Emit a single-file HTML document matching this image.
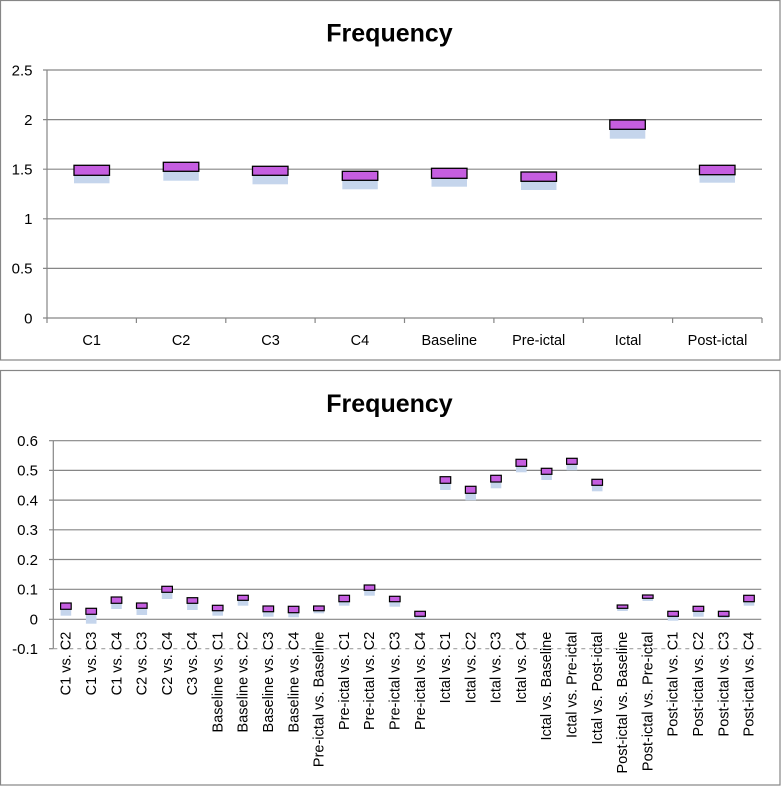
<!DOCTYPE html>
<html>
<head>
<meta charset="utf-8">
<style>
html,body{margin:0;padding:0;background:#fff;}
svg{display:block;}
text{font-family:"Liberation Sans",sans-serif;fill:#000;}
</style>
</head>
<body>
<svg width="781" height="786" viewBox="0 0 781 786" xmlns="http://www.w3.org/2000/svg">
<rect x="0" y="0" width="781" height="786" fill="#fff"/>
<!-- Chart 1 frame -->
<rect x="0.5" y="0.5" width="779.5" height="359.5" fill="#fff" stroke="#868686" stroke-width="1.2"/>
<text x="389.5" y="41.5" font-size="25" font-weight="bold" text-anchor="middle">Frequency</text>
<g stroke="#868686" stroke-width="1.2">
<line x1="43" y1="70" x2="762" y2="70"/>
<line x1="43" y1="119.6" x2="762" y2="119.6"/>
<line x1="43" y1="169.2" x2="762" y2="169.2"/>
<line x1="43" y1="218.8" x2="762" y2="218.8"/>
<line x1="43" y1="268.4" x2="762" y2="268.4"/>
<line x1="43" y1="318" x2="762" y2="318"/>
<line x1="47" y1="70" x2="47" y2="318"/>
<line x1="47" y1="318" x2="47" y2="323"/>
<line x1="136.4" y1="318" x2="136.4" y2="323"/>
<line x1="225.8" y1="318" x2="225.8" y2="323"/>
<line x1="315.1" y1="318" x2="315.1" y2="323"/>
<line x1="404.5" y1="318" x2="404.5" y2="323"/>
<line x1="493.9" y1="318" x2="493.9" y2="323"/>
<line x1="583.3" y1="318" x2="583.3" y2="323"/>
<line x1="672.6" y1="318" x2="672.6" y2="323"/>
<line x1="762" y1="318" x2="762" y2="323"/>
</g>
<g font-size="15" text-anchor="end">
<text x="32.5" y="75.5">2.5</text>
<text x="32.5" y="125">2</text>
<text x="32.5" y="174.5">1.5</text>
<text x="32.5" y="224">1</text>
<text x="32.5" y="273.5">0.5</text>
<text x="32.5" y="323.5">0</text>
</g>
<g font-size="14.5" text-anchor="middle">
<text x="91.7" y="345">C1</text>
<text x="181.1" y="345">C2</text>
<text x="270.5" y="345">C3</text>
<text x="359.9" y="345">C4</text>
<text x="449.3" y="345">Baseline</text>
<text x="538.7" y="345">Pre-ictal</text>
<text x="628.1" y="345">Ictal</text>
<text x="717.5" y="345">Post-ictal</text>
</g>
<g fill="#c5d5ec">
<rect x="74" y="175.3" width="35.5" height="8"/>
<rect x="163.3" y="171.3" width="35.5" height="9.4"/>
<rect x="252.5" y="175.3" width="35.5" height="9"/>
<rect x="342.3" y="180.3" width="35.5" height="9"/>
<rect x="431.5" y="178.3" width="35.5" height="8.4"/>
<rect x="521" y="181.3" width="35.5" height="8.7"/>
<rect x="609.8" y="129.3" width="35.5" height="9.4"/>
<rect x="699.5" y="174.7" width="35.5" height="8"/>
</g>
<g fill="#c55ee0" stroke="#000" stroke-width="1.3">
<rect x="74" y="165.3" width="35.5" height="10"/>
<rect x="163.3" y="162.3" width="35.5" height="9"/>
<rect x="252.5" y="166.3" width="35.5" height="9"/>
<rect x="342.3" y="171.3" width="35.5" height="9"/>
<rect x="431.5" y="168.3" width="35.5" height="10"/>
<rect x="521" y="172" width="35.5" height="9.3"/>
<rect x="609.8" y="120" width="35.5" height="9.3"/>
<rect x="699.5" y="165.3" width="35.5" height="9.4"/>
</g>

<!-- Chart 2 frame -->
<rect x="0.5" y="370.5" width="779.5" height="414.5" fill="#fff" stroke="#868686" stroke-width="1.2"/>
<text x="389.5" y="412" font-size="25" font-weight="bold" text-anchor="middle">Frequency</text>
<g stroke="#868686" stroke-width="1.2">
<line x1="49" y1="440.7" x2="761.3" y2="440.7"/>
<line x1="49" y1="470.4" x2="761.3" y2="470.4"/>
<line x1="49" y1="500.1" x2="761.3" y2="500.1"/>
<line x1="49" y1="529.8" x2="761.3" y2="529.8"/>
<line x1="49" y1="559.5" x2="761.3" y2="559.5"/>
<line x1="49" y1="589.3" x2="761.3" y2="589.3"/>
<line x1="49" y1="619.3" x2="761.3" y2="619.3"/>
<line x1="49" y1="648.7" x2="53.3" y2="648.7"/>
<line x1="53.3" y1="440.7" x2="53.3" y2="648.7"/>
</g>
<line x1="53.3" y1="648.7" x2="761.3" y2="648.7" stroke="#a0a0a0" stroke-width="1.2" stroke-dasharray="4,4"/>
<g font-size="15" text-anchor="end">
<text x="38" y="446">0.6</text>
<text x="38" y="475.7">0.5</text>
<text x="38" y="505.4">0.4</text>
<text x="38" y="535.1">0.3</text>
<text x="38" y="564.8">0.2</text>
<text x="38" y="594.6">0.1</text>
<text x="38" y="624.6">0</text>
<text x="38" y="654">-0.1</text>
</g>
<g font-size="14.5" text-anchor="end">
<text transform="translate(70.7,631.7) rotate(-90)">C1 vs. C2</text>
<text transform="translate(96,631.7) rotate(-90)">C1 vs. C3</text>
<text transform="translate(121.3,631.7) rotate(-90)">C1 vs. C4</text>
<text transform="translate(146.6,631.7) rotate(-90)">C2 vs. C3</text>
<text transform="translate(171.9,631.7) rotate(-90)">C2 vs. C4</text>
<text transform="translate(197.2,631.7) rotate(-90)">C3 vs. C4</text>
<text transform="translate(222.4,631.7) rotate(-90)">Baseline vs. C1</text>
<text transform="translate(247.7,631.7) rotate(-90)">Baseline vs. C2</text>
<text transform="translate(273,631.7) rotate(-90)">Baseline vs. C3</text>
<text transform="translate(298.3,631.7) rotate(-90)">Baseline vs. C4</text>
<text transform="translate(323.6,631.7) rotate(-90)">Pre-ictal vs. Baseline</text>
<text transform="translate(348.9,631.7) rotate(-90)">Pre-ictal vs. C1</text>
<text transform="translate(374.2,631.7) rotate(-90)">Pre-ictal vs. C2</text>
<text transform="translate(399.5,631.7) rotate(-90)">Pre-ictal vs. C3</text>
<text transform="translate(424.8,631.7) rotate(-90)">Pre-ictal vs. C4</text>
<text transform="translate(450.1,631.7) rotate(-90)">Ictal vs. C1</text>
<text transform="translate(475.4,631.7) rotate(-90)">Ictal vs. C2</text>
<text transform="translate(500.7,631.7) rotate(-90)">Ictal vs. C3</text>
<text transform="translate(525.9,631.7) rotate(-90)">Ictal vs. C4</text>
<text transform="translate(551.2,631.7) rotate(-90)">Ictal vs. Baseline</text>
<text transform="translate(576.5,631.7) rotate(-90)">Ictal vs. Pre-ictal</text>
<text transform="translate(601.8,631.7) rotate(-90)">Ictal vs. Post-ictal</text>
<text transform="translate(627.1,631.7) rotate(-90)">Post-ictal vs. Baseline</text>
<text transform="translate(652.4,631.7) rotate(-90)">Post-ictal vs. Pre-ictal</text>
<text transform="translate(677.7,631.7) rotate(-90)">Post-ictal vs. C1</text>
<text transform="translate(703,631.7) rotate(-90)">Post-ictal vs. C2</text>
<text transform="translate(728.3,631.7) rotate(-90)">Post-ictal vs. C3</text>
<text transform="translate(753.6,631.7) rotate(-90)">Post-ictal vs. C4</text>
</g>
<g fill="#c5d5ec">
<rect x="60.6" y="609.3" width="10.6" height="6.4"/>
<rect x="85.9" y="614.3" width="10.6" height="9.4"/>
<rect x="111.2" y="603.3" width="10.6" height="5.7"/>
<rect x="136.5" y="608.3" width="10.6" height="6.7"/>
<rect x="161.8" y="592.3" width="10.6" height="6.7"/>
<rect x="187.1" y="603.3" width="10.6" height="6.7"/>
<rect x="212.4" y="610.7" width="10.6" height="5"/>
<rect x="237.7" y="600.3" width="10.6" height="5.4"/>
<rect x="263" y="611.7" width="10.6" height="5"/>
<rect x="288.3" y="612.7" width="10.6" height="4.6"/>
<rect x="313.6" y="610.7" width="10.6" height="2.6"/>
<rect x="338.9" y="601.7" width="10.6" height="4"/>
<rect x="364.2" y="590.3" width="10.6" height="5.4"/>
<rect x="389.5" y="601.7" width="10.6" height="5"/>
<rect x="414.8" y="616.3" width="10.6" height="2.7"/>
<rect x="440.1" y="483.3" width="10.6" height="6.7"/>
<rect x="465.4" y="493.3" width="10.6" height="7"/>
<rect x="490.7" y="482" width="10.6" height="6.3"/>
<rect x="516" y="466.3" width="10.6" height="6"/>
<rect x="541.3" y="474.3" width="10.6" height="5.7"/>
<rect x="566.6" y="464.3" width="10.6" height="6"/>
<rect x="591.9" y="485.3" width="10.6" height="6"/>
<rect x="617.2" y="608.3" width="10.6" height="2.7"/>
<rect x="642.5" y="598.3" width="10.6" height="2.7"/>
<rect x="667.8" y="616.3" width="10.6" height="4.4"/>
<rect x="693.1" y="611.3" width="10.6" height="5.4"/>
<rect x="718.4" y="616.3" width="10.6" height="1.7"/>
<rect x="743.7" y="601.7" width="10.6" height="4"/>
</g>
<g fill="#c55ee0" stroke="#000" stroke-width="1.2">
<rect x="60.6" y="603" width="10.6" height="6.3"/>
<rect x="85.9" y="608.3" width="10.6" height="6"/>
<rect x="111.2" y="597" width="10.6" height="6.3"/>
<rect x="136.5" y="603" width="10.6" height="5.3"/>
<rect x="161.8" y="586.3" width="10.6" height="6"/>
<rect x="187.1" y="597.7" width="10.6" height="5.6"/>
<rect x="212.4" y="605.3" width="10.6" height="5.4"/>
<rect x="237.7" y="595.3" width="10.6" height="5"/>
<rect x="263" y="606" width="10.6" height="5.7"/>
<rect x="288.3" y="606.3" width="10.6" height="6.4"/>
<rect x="313.6" y="606" width="10.6" height="4.7"/>
<rect x="338.9" y="595.3" width="10.6" height="6.4"/>
<rect x="364.2" y="585" width="10.6" height="5.3"/>
<rect x="389.5" y="596.3" width="10.6" height="5.4"/>
<rect x="414.8" y="611.3" width="10.6" height="5"/>
<rect x="440.1" y="476.7" width="10.6" height="6.6"/>
<rect x="465.4" y="486.3" width="10.6" height="7"/>
<rect x="490.7" y="475.3" width="10.6" height="6.7"/>
<rect x="516" y="459.3" width="10.6" height="7"/>
<rect x="541.3" y="468.3" width="10.6" height="6"/>
<rect x="566.6" y="458.3" width="10.6" height="6"/>
<rect x="591.9" y="479.3" width="10.6" height="6"/>
<rect x="617.2" y="605" width="10.6" height="3.3"/>
<rect x="642.5" y="595" width="10.6" height="3.3"/>
<rect x="667.8" y="611.3" width="10.6" height="5"/>
<rect x="693.1" y="606.3" width="10.6" height="5"/>
<rect x="718.4" y="611.3" width="10.6" height="5"/>
<rect x="743.7" y="595.3" width="10.6" height="6.4"/>
</g>
</svg>
</body>
</html>
